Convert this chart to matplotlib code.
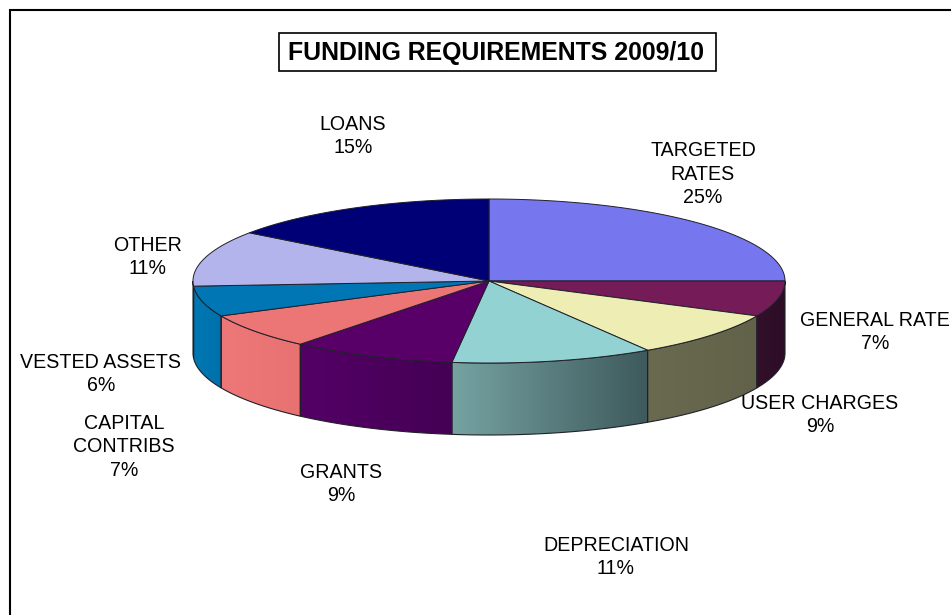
import numpy as np
import matplotlib
matplotlib.use('Agg')
import matplotlib.pyplot as plt
from matplotlib.colors import to_rgb
from matplotlib.patches import Polygon, Rectangle

plt.rcParams['font.family'] = ['Liberation Sans', 'DejaVu Sans']

labels = ['TARGETED\nRATES', 'GENERAL RATE', 'USER CHARGES', 'DEPRECIATION', 'GRANTS',
          'CAPITAL\nCONTRIBS', 'VESTED ASSETS', 'OTHER', 'LOANS']
shares = [25, 7, 9, 11, 9, 7, 6, 11, 15]
top_colors = ['#7676ee', '#751c58', '#eeeeb4', '#93d2d2', '#580068',
              '#ec7676', '#0076b4', '#b4b4ec', '#000076']
side_left = ['#4a4a96', '#32102a', '#6a6a50', '#76a2a2', '#540066',
             '#ee7878', '#0078b4', '#8080a8', '#000050']
side_right = ['#4a4a96', '#2c0c26', '#62624a', '#3e5a5c', '#440054',
              '#e87272', '#0070aa', '#8080a8', '#000050']
label_xy = [(703, 174), (875, 332), (820, 415), (616, 557), (341, 484),
            (124, 447), (101, 374), (148, 257), (353, 136)]

W, H = 951, 615
CX, CY, RX, RY, DEPTH = 489, 281, 296, 82, 72
EDGE = '#20202a'

fig = plt.figure(figsize=(W / 100, H / 100), dpi=100)
ax = fig.add_axes([0, 0, 1, 1])
ax.axis('off')

# the frame runs off the right and bottom of the canvas
ax.plot([9.5, 9.5, W], [H, 10, 10], color='black', lw=1.5, solid_joinstyle='miter')


def ellipse_pts(a0, a1, n=120):
    t = np.radians(np.linspace(a0, a1, n))
    return CX + RX * np.cos(t), CY - RY * np.sin(t)


# clockwise from twelve o'clock
edges = 90 - 3.6 * np.cumsum([0] + shares)

# outer wall, only the front half of the rim shows
for i in range(len(shares)):
    hi = min(edges[i], 0)
    lo = max(edges[i + 1], -180)
    if lo >= hi:
        continue
    x, y = ellipse_pts(hi, lo)
    pts = np.r_[np.c_[x, y], np.c_[x[::-1], y[::-1] + DEPTH]]
    wall = Polygon(pts, closed=True, fc='none', ec=EDGE, lw=0.8, zorder=3)
    ax.add_patch(wall)
    ramp = np.linspace(to_rgb(side_left[i]), to_rgb(side_right[i]), 64)[None, :, :]
    im = ax.imshow(ramp, extent=(x.min(), x.max(), y.max() + DEPTH, y.min()),
                   aspect='auto', interpolation='bilinear', zorder=2)
    im.set_clip_path(wall)

# top face
for i in range(len(shares)):
    x, y = ellipse_pts(edges[i], edges[i + 1])
    pts = np.r_[[[CX, CY]], np.c_[x, y]]
    ax.add_patch(Polygon(pts, closed=True, fc=top_colors[i], ec=EDGE, lw=0.7, zorder=4))

for lab, share, (lx, ly) in zip(labels, shares, label_xy):
    ax.text(lx, ly, f'{lab}\n{share}%', ha='center', va='center', fontsize=14.1,
            color='black', linespacing=1.32, zorder=5)

ax.add_patch(Rectangle((279, 33), 437, 38, fc='white', ec='black', lw=1.2, zorder=5))
ax.text(496, 53, 'FUNDING REQUIREMENTS 2009/10', ha='center', va='center', fontsize=17.9,
        fontweight='bold', color='black', zorder=6)

ax.set_xlim(0, W)
ax.set_ylim(H, 0)

fig.savefig('out.png', dpi=100, facecolor='white')
plt.close(fig)
